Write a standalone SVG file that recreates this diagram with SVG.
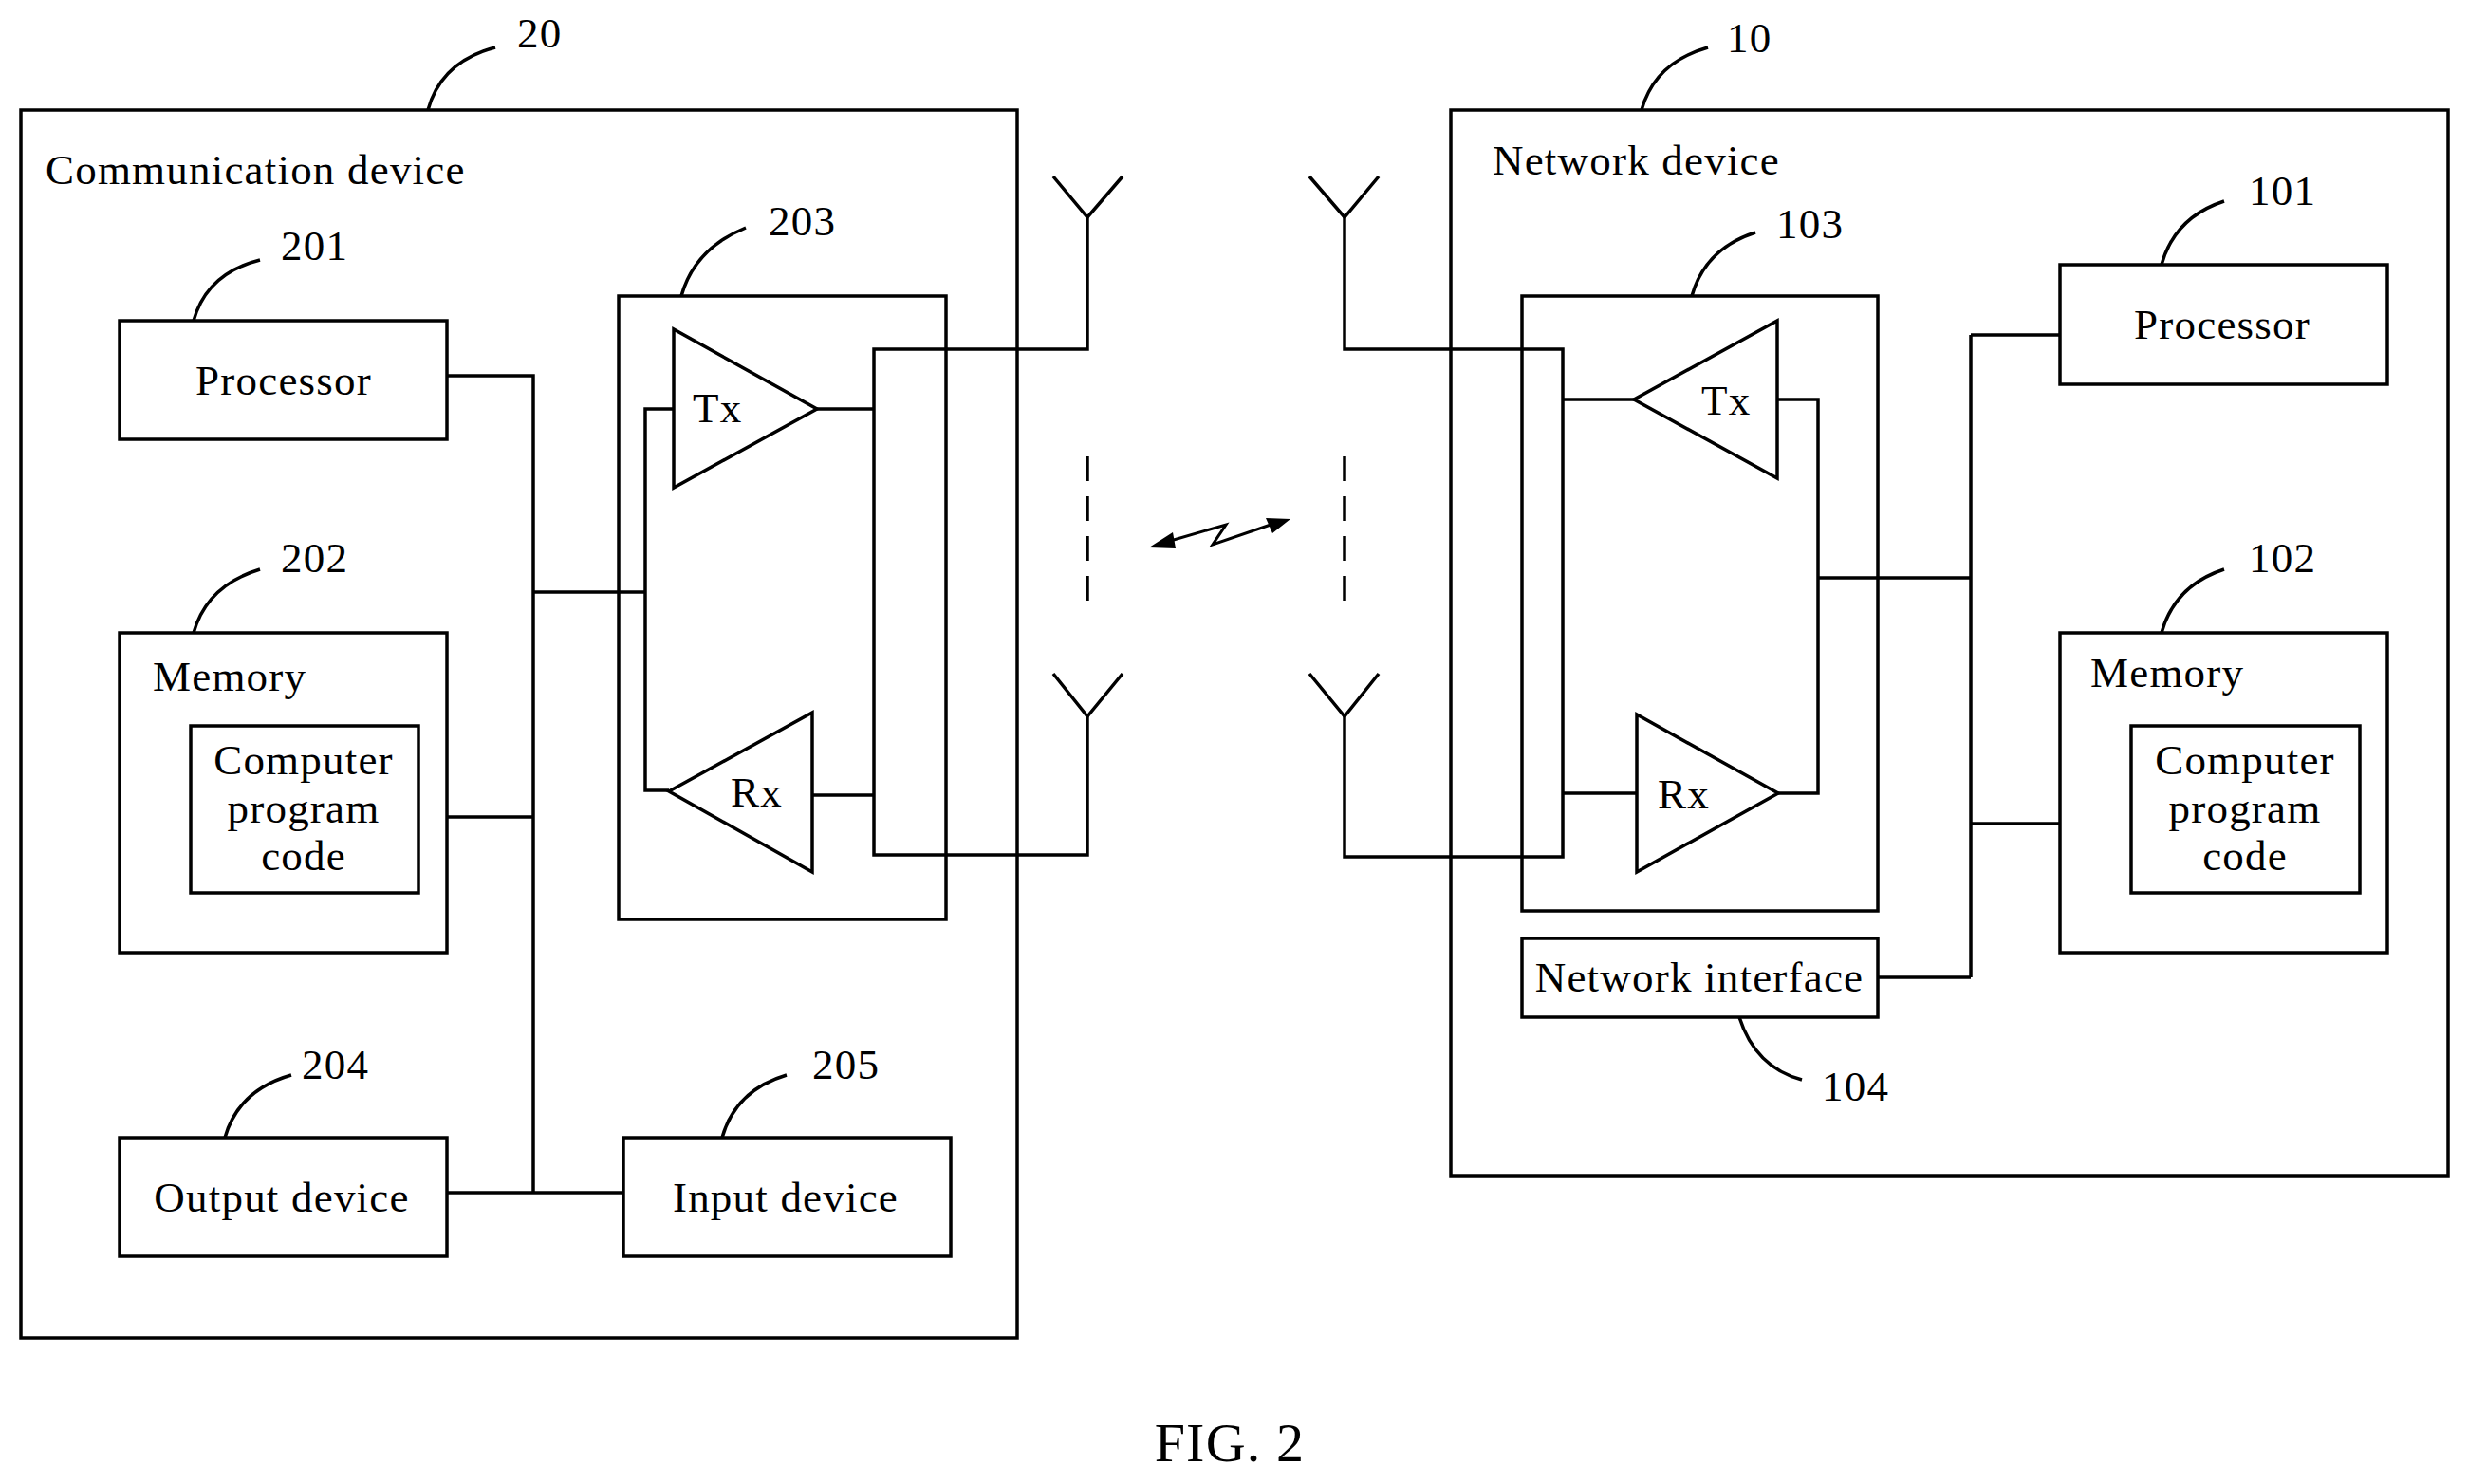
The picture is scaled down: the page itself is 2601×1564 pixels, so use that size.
<svg xmlns="http://www.w3.org/2000/svg" width="2601" height="1564" viewBox="0 0 2601 1564">
<style>
.b{fill:none;stroke:#000;stroke-width:3.5}
.c{fill:none;stroke:#000;stroke-width:3.5}
text{font-family:"Liberation Serif",serif;font-size:45px;letter-spacing:1.2px;fill:#000}
.m{text-anchor:middle}
</style>
<rect width="2601" height="1564" fill="#fff"/>
<g id="dev20"><rect class="b" x="22" y="116" width="1050" height="1294"/><text x="48" y="194">Communication device</text><text x="545" y="50">20</text><path class="b" d="M451,116 Q465,65 522,50"/></g>
<g id="p201"><rect class="b" x="126" y="338" width="345" height="125"/><text class="m" x="299" y="416">Processor</text><text x="296" y="274">201</text><path class="b" d="M204,338 Q218,288 274,274"/></g>
<g id="m202"><rect class="b" x="126" y="667" width="345" height="337"/><text x="161" y="728">Memory</text><rect class="b" x="201" y="765" width="240" height="176"/><text class="m" x="320" y="816">Computer</text><text class="m" x="320" y="867">program</text><text class="m" x="320" y="917">code</text><text x="296" y="603">202</text><path class="b" d="M204,667 Q218,617 274,600"/></g>
<g id="t203"><rect class="b" x="652" y="312" width="345" height="657"/><path class="b" d="M710,347 L710,514 L861,431 Z"/><text x="730" y="445">Tx</text><path class="b" d="M856,751 L856,919 L705,834 Z"/><text x="770" y="850">Rx</text><text x="810" y="248">203</text><path class="b" d="M718,312 Q732,262 786,240"/></g>
<g id="o204"><rect class="b" x="126" y="1199" width="345" height="125"/><text class="m" x="297" y="1277">Output device</text><text x="318" y="1137">204</text><path class="b" d="M237,1199 Q251,1149 307,1133"/></g>
<g id="i205"><rect class="b" x="657" y="1199" width="345" height="125"/><text class="m" x="828" y="1277">Input device</text><text x="856" y="1137">205</text><path class="b" d="M761,1199 Q775,1149 829,1133"/></g>
<g id="dev10"><rect class="b" x="1529" y="116" width="1051" height="1123"/><text x="1573" y="184">Network device</text><text x="1820" y="55">10</text><path class="b" d="M1730,116 Q1744,66 1800,50"/></g>
<g id="t103"><rect class="b" x="1604" y="312" width="375" height="648"/><path class="b" d="M1873,338 L1873,504 L1722,421 Z"/><text x="1793" y="437">Tx</text><path class="b" d="M1725,753 L1725,919 L1874,836 Z"/><text x="1747" y="852">Rx</text><text x="1872" y="251">103</text><path class="b" d="M1783,312 Q1797,262 1850,245"/></g>
<g id="p101"><rect class="b" x="2171" y="279" width="345" height="126"/><text class="m" x="2342" y="357">Processor</text><text x="2370" y="216">101</text><path class="b" d="M2278,279 Q2292,229 2344,212"/></g>
<g id="m102"><rect class="b" x="2171" y="667" width="345" height="337"/><text x="2203" y="724">Memory</text><rect class="b" x="2246" y="765" width="241" height="176"/><text class="m" x="2366" y="816">Computer</text><text class="m" x="2366" y="867">program</text><text class="m" x="2366" y="917">code</text><text x="2370" y="603">102</text><path class="b" d="M2278,667 Q2292,617 2344,600"/></g>
<g id="n104"><rect class="b" x="1604" y="989" width="375" height="83"/><text class="m" x="1791" y="1045">Network interface</text><text x="1920" y="1160">104</text><path class="b" d="M1833,1072 Q1850,1125 1899,1138"/></g>
<g id="connectors">
<path class="c" d="M471,396 H562 V1257 M471,861 H562 M471,1257 H657 M562,624 H680 M710,431 H680 V833 H705 M861,431 H921 M856,838 H921"/>
<path class="c" d="M1146,229 V368 H921 V901 H1146 V755"/>
<path class="c" d="M1110,186 L1146,229 L1183,186 M1110,710 L1146,755 L1183,710"/>
<path class="c" d="M1146,481 V642" stroke-dasharray="26,16"/>
<path class="c" d="M1417,229 V368 H1647 V903 H1417 V755"/>
<path class="c" d="M1380,186 L1417,229 L1453,186 M1380,710 L1417,755 L1453,710"/>
<path class="c" d="M1417,481 V642" stroke-dasharray="26,16"/>
<path class="c" d="M1647,421 H1722 M1647,836 H1725 M1873,421 H1916 V836 H1874 M1916,609 H2077 M2077,353 V1030 M2077,353 H2171 M2077,868 H2171 M1979,1030 H2077"/>
<path fill="none" stroke="#000" stroke-width="3" d="M1230,571 L1292,553 L1278,574 L1342,552"/>
<path d="M1211,577 L1236,561 L1239,578 Z M1360,547 L1334,546 L1341,562 Z" fill="#000"/>
</g>
<text class="m" x="1296" y="1540" style="font-size:58px">FIG. 2</text>
</svg>
